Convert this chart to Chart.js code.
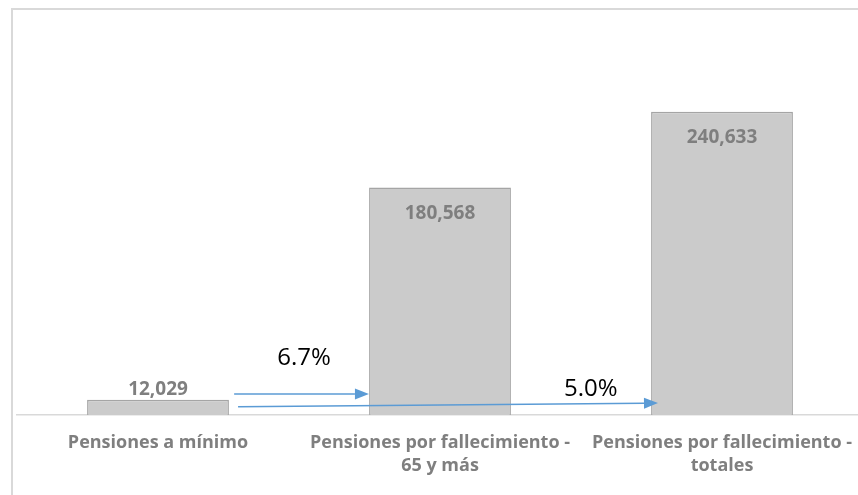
<!DOCTYPE html>
<html>
<head>
<meta charset="utf-8">
<script src="https://cdn.jsdelivr.net/npm/chart.js@4.4.0/dist/chart.umd.min.js"></script>
<style>
    body { margin: 0; overflow: hidden; background: #fff; }
    #frame { position: absolute; left: 11px; top: 8px; width: 900px; height: 560px; border: 2px solid #d9d9d9; }
    #chart1 { position: absolute; left: 0; top: 0; }
</style>
</head>
<body>
<div id="frame"></div>
<canvas id="chart1" width="880" height="520"></canvas>
<script>
// categories and values
const categories = [
    'Pensiones a mínimo',
    ['Pensiones por fallecimiento -', '65 y más'],
    ['Pensiones por fallecimiento -', 'totales']
];
const pensionValues = [12029, 180568, 240633];
const growthLabels = ['6.7%', '5.0%'];
const yTicks = [0, 300000];

// arrows: from category (+offset) to category (+offset), value at each end
const arrows = [
    { from: [0, 0.27, 16700], to: [1, -0.252, 16700], text: growthLabels[0], label: [0.518, 45300] },
    { from: [0, 0.284, 6500], to: [2, -0.227, 9500], text: growthLabels[1], label: [1.535, 20650] }
];

const fmt = function (v) {
    return v.toLocaleString('en-US');
};

const valueLabels = {
    id: 'valueLabels',
    afterDatasetsDraw: function (chart) {
        const ctx = chart.ctx;
        const meta = chart.getDatasetMeta(0);
        ctx.save();
        ctx.font = 'bold 19px "Open Sans"';
        ctx.fillStyle = '#7f7f7f';
        ctx.textAlign = 'center';
        ctx.textBaseline = 'middle';
        meta.data.forEach(function (bar, i) {
            const h = bar.base - bar.y;
            const y = h > 40 ? bar.y + 26 : bar.y - 10;
            ctx.fillText(fmt(pensionValues[i]), bar.x, y);
        });
        ctx.restore();
    }
};

const arrowPlugin = {
    id: 'arrowPlugin',
    afterDatasetsDraw: function (chart) {
        const ctx = chart.ctx;
        const xs = chart.scales.x;
        const ys = chart.scales.y;
        const step = xs.getPixelForValue(1) - xs.getPixelForValue(0);
        ctx.save();
        arrows.forEach(function (a) {
            const x1 = xs.getPixelForValue(a.from[0]) + a.from[1] * step;
            const y1 = ys.getPixelForValue(a.from[2]);
            const x2 = xs.getPixelForValue(a.to[0]) + a.to[1] * step;
            const y2 = ys.getPixelForValue(a.to[2]);
            const ang = Math.atan2(y2 - y1, x2 - x1);
            const len = 14;
            const bx = x2 - len * Math.cos(ang);
            const by = y2 - len * Math.sin(ang);
            ctx.strokeStyle = '#5b9bd5';
            ctx.fillStyle = '#5b9bd5';
            ctx.lineWidth = 1.5;
            ctx.beginPath();
            ctx.moveTo(x1, y1);
            ctx.lineTo(bx, by);
            ctx.stroke();
            ctx.beginPath();
            ctx.moveTo(x2, y2);
            ctx.lineTo(bx + 5.5 * Math.sin(ang), by - 5.5 * Math.cos(ang));
            ctx.lineTo(bx - 5.5 * Math.sin(ang), by + 5.5 * Math.cos(ang));
            ctx.closePath();
            ctx.fill();

            ctx.font = '24px "Open Sans"';
            ctx.fillStyle = '#000000';
            ctx.textAlign = 'center';
            ctx.textBaseline = 'middle';
            ctx.fillText(a.text, xs.getPixelForValue(0) + a.label[0] * step, ys.getPixelForValue(a.label[1]));
        });
        ctx.restore();
    }
};

function barChart(canvas, labels, data) {
    const ctx = document.getElementById(canvas);
    const myChart = new Chart(ctx, {
        type: 'bar',
        data: {
            labels: labels,
            datasets: [{
                data: data,
                backgroundColor: '#cbcbcb',
                borderColor: '#a5a5a5',
                borderWidth: 1.5,
                borderSkipped: 'bottom',
                categoryPercentage: 1,
                barPercentage: 0.503
            }]
        },
        options: {
            responsive: false,
            animation: false,
            layout: { padding: { top: 37, left: 17, right: 17, bottom: 0 } },
            plugins: {
                legend: { display: false },
                tooltip: { enabled: false }
            },
            scales: {
                y: {
                    display: false,
                    min: yTicks[0],
                    max: yTicks[1]
                },
                x: {
                    grid: { display: false },
                    border: { display: true, color: '#d9d9d9', width: 1.5 },
                    ticks: {
                        color: '#7f7f7f',
                        font: { family: 'Open Sans', weight: 'bold', size: 18, lineHeight: 1.28 },
                        padding: 8,
                        maxRotation: 0,
                        autoSkip: false
                    },
                    afterFit: function (scale) {
                        scale.height = 105;
                    }
                }
            }
        },
        plugins: [valueLabels, arrowPlugin]
    });
}

barChart('chart1', categories, pensionValues);
</script>
</body>
</html>
